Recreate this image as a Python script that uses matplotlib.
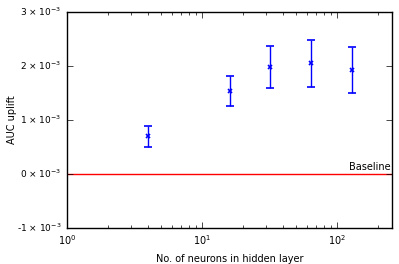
import numpy as np
import matplotlib
matplotlib.use("Agg")
import matplotlib.pyplot as plt
from matplotlib.ticker import FuncFormatter

# neurons in hidden layer vs AUC uplift (in units of 1e-3)
neurons = [4, 16, 32, 64, 128]
uplift = [0.70, 1.54, 1.99, 2.05, 1.93]
uplift_err = [0.20, 0.28, 0.39, 0.43, 0.43]

plt.style.use("classic")
plt.rcParams["font.size"] = 7
plt.rcParams["mathtext.fontset"] = "dejavusans"
plt.rcParams["mathtext.default"] = "regular"

fig = plt.figure(figsize=(3.99, 2.64), dpi=100)
ax = fig.add_axes([0.168, 0.136, 0.815, 0.818])

ax.errorbar(neurons, np.array(uplift) * 1e-3, yerr=np.array(uplift_err) * 1e-3,
            fmt="x", color="blue", ecolor="blue", capsize=3, markersize=3.5, mew=1.2, lw=1)
ax.axhline(0, color="red", lw=1)
ax.text(250, 0.03e-3, "Baseline", ha="right", va="bottom", fontsize=7)

ax.set_xscale("log")
ax.set_xlim(1, 256)
ax.set_ylim(-1e-3, 3e-3)
ax.set_yticks([-1e-3, 0, 1e-3, 2e-3, 3e-3])
ax.yaxis.set_major_formatter(FuncFormatter(
    lambda v, p: "%d \u00d7 10" % round(v * 1e3) + r"$^{-3}$"))
ax.tick_params(axis="y", labelsize=6.5)
ax.tick_params(axis="x", labelsize=7)
ax.set_xlabel("No. of neurons in hidden layer", fontsize=7)
ax.set_ylabel("AUC uplift", fontsize=7)
ax.yaxis.set_label_coords(-0.155, 0.5)

fig.savefig("out.png", dpi=100)
